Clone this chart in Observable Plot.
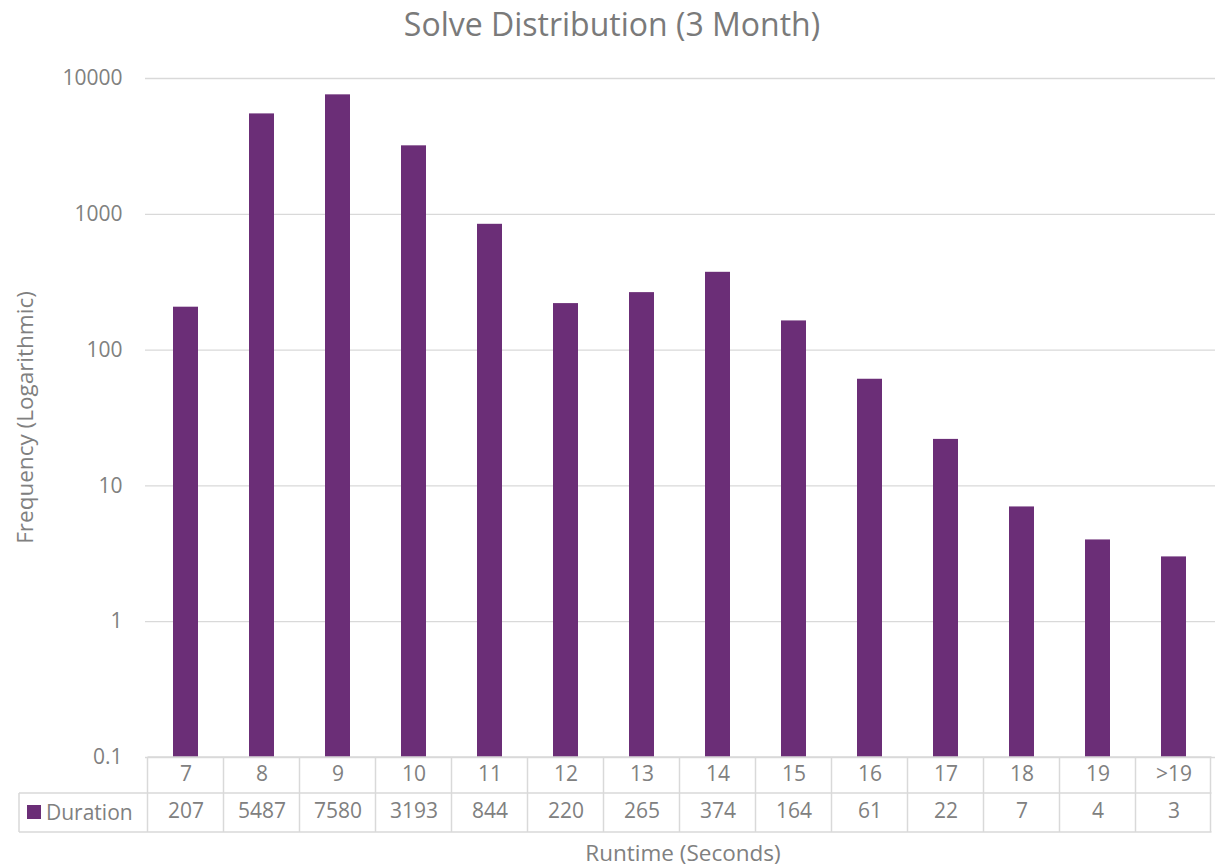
<!DOCTYPE html>
<html><head><meta charset="utf-8">
<script src="https://cdn.jsdelivr.net/npm/d3@7"></script>
<script src="https://cdn.jsdelivr.net/npm/@observablehq/plot@0.6"></script>
<style>body{margin:0;background:#fff;font-family:"Open Sans",sans-serif}</style>
</head><body><div id="chart"></div>
<script>
const categories = ["7","8","9","10","11","12","13","14","15","16","17","18","19",">19"];
const durations = [207,5487,7580,3193,844,220,265,374,164,61,22,7,4,3];
const yTicks = [0.1,1,10,100,1000,10000];
const seriesName = "Duration";
const titleText = "Solve Distribution (3 Month)";
const yLabel = "Frequency (Logarithmic)";
const xLabel = "Runtime (Seconds)";
const barColor = "#6B2E77";
const textColor = "#808080";
const lineColor = "#d9d9d9";
const FONT = "Open Sans, sans-serif";

const data = categories.map((c, i) => ({category: c, value: durations[i]}));
const fmt = d => String(d);

const plot = Plot.plot({
  width: 1215, height: 868,
  marginLeft: 145, marginRight: 0, marginTop: 78, marginBottom: 111,
  style: {fontFamily: FONT, fontSize: "21px", color: textColor, background: "#fff", overflow: "visible"},
  x: {domain: categories, paddingInner: 0.67, paddingOuter: 0.335, axis: null},
  y: {type: "log", domain: [0.1, 10000], axis: null},
  marks: [
    Plot.gridY(yTicks, {stroke: lineColor, strokeOpacity: 1, strokeWidth: 1.3}),
    Plot.axisY(yTicks, {tickSize: 0, tickPadding: 23, tickFormat: fmt, label: null, fill: textColor, fontSize: 21}),
    Plot.barY(data, {x: "category", y1: 0.1, y2: "value", fill: barColor}),
    Plot.text(data, {x: "category", frameAnchor: "bottom", dy: 23, text: "category", fill: textColor, fontSize: 21}),
    Plot.text(data, {x: "category", frameAnchor: "bottom", dy: 60, text: d => String(d.value), fill: textColor, fontSize: 21})
  ]
});
document.getElementById("chart").appendChild(plot);

const svg = d3.select(plot);
const xs = plot.scale("x");
const ys = plot.scale("y");
const step = xs.step ?? (xs.range[1] - xs.range[0]) / categories.length;
const bw = xs.bandwidth;
const gap = (step - bw) / 2;
const y0 = ys.apply(0.1);
const r1 = y0 + 36, r2 = y0 + 75;
const xLeft = xs.apply(categories[0]) - gap;
const xRight = xs.apply(categories[categories.length - 1]) + bw + gap;
const tableLeft = 19;

const g = svg.append("g").attr("stroke", lineColor).attr("stroke-width", 1.5);
g.append("line").attr("x1", xLeft).attr("x2", xRight).attr("y1", y0).attr("y2", y0);
g.append("line").attr("x1", tableLeft).attr("x2", xRight).attr("y1", r1).attr("y2", r1);
g.append("line").attr("x1", tableLeft).attr("x2", xRight).attr("y1", r2).attr("y2", r2);
g.append("line").attr("x1", tableLeft).attr("x2", tableLeft).attr("y1", r1).attr("y2", r2);
categories.forEach(c => {
  const bx = xs.apply(c) - gap;
  g.append("line").attr("x1", bx).attr("x2", bx).attr("y1", y0).attr("y2", r2);
});
g.append("line").attr("x1", xRight - 1).attr("x2", xRight - 1).attr("y1", y0).attr("y2", r2);

// legend key in table
svg.append("rect").attr("x", 27).attr("y", 805).attr("width", 14).attr("height", 14).attr("fill", barColor);
svg.append("text").attr("x", 46).attr("y", 813).attr("dy", "0.35em").attr("text-anchor", "start")
  .attr("fill", textColor).attr("font-size", 21).attr("font-family", FONT).text(seriesName);

// titles
svg.append("text").attr("x", 612).attr("y", 36).attr("text-anchor", "middle")
  .attr("fill", "#7a7a7a").attr("font-size", 32).attr("font-family", FONT).text(titleText);
svg.append("text").attr("transform", `translate(33,${(78 + y0) / 2}) rotate(-90)`).attr("text-anchor", "middle")
  .attr("fill", textColor).attr("font-size", 22.5).attr("font-family", FONT).text(yLabel);
svg.append("text").attr("x", 683).attr("y", 861).attr("text-anchor", "middle")
  .attr("fill", textColor).attr("font-size", 22.5).attr("font-family", FONT).text(xLabel);
</script>
</body></html>
